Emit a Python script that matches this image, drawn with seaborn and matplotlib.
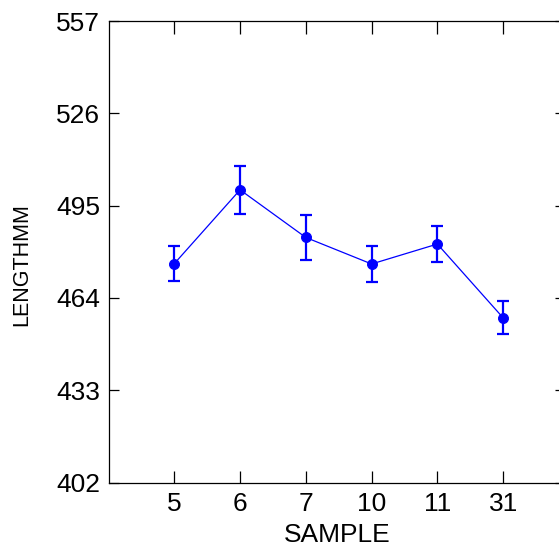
import matplotlib
matplotlib.use("Agg")
import matplotlib.pyplot as plt
import seaborn as sns
import pandas as pd

# data
samples = ["5", "6", "7", "10", "11", "31"]
means = [475.5, 500.3, 484.3, 475.4, 482.1, 457.3]
errs = [5.9, 8.1, 7.4, 6.2, 6.0, 5.5]
yticks = [402, 433, 464, 495, 526, 557]

df = pd.DataFrame({"SAMPLE": samples, "LENGTHMM": means})

sns.set_style("white")
plt.rcParams["font.family"] = ["Liberation Sans", "DejaVu Sans"]
plt.rcParams["text.color"] = "black"
plt.rcParams["axes.labelcolor"] = "black"

fig = plt.figure(figsize=(5.59, 5.49), dpi=100)
ax = fig.add_axes([0.1941, 0.1211, 0.8166, 0.8406])

sns.pointplot(data=df, x="SAMPLE", y="LENGTHMM", errorbar=None, color="#0000FF",
              markers="o", markersize=7.2, linewidth=0.9, ax=ax)
ax.errorbar(range(len(samples)), means, yerr=errs, fmt="none", ecolor="#0000FF",
            elinewidth=1.6, capsize=4, capthick=1.6)

ax.set_xlim(-1, 5.94)
ax.set_ylim(402, 557)
ax.set_yticks(yticks)
ax.set_yticklabels([str(v) for v in yticks])

for s in ax.spines.values():
    s.set_visible(True)
    s.set_color("black")
    s.set_linewidth(0.9)

ax.tick_params(axis="x", direction="in", length=9, width=0.9, top=True, bottom=True,
               labelsize=19, pad=7, colors="black")
ax.tick_params(axis="y", direction="in", length=7, width=0.9, left=True, right=True,
               labelsize=19, pad=6, colors="black")

ax.set_xlabel("SAMPLE", fontsize=19, labelpad=5)
ax.set_ylabel("LENGTHMM", fontsize=15.5)
ax.yaxis.set_label_coords(-0.166, 0.472)

fig.savefig("out.png", dpi=100)
